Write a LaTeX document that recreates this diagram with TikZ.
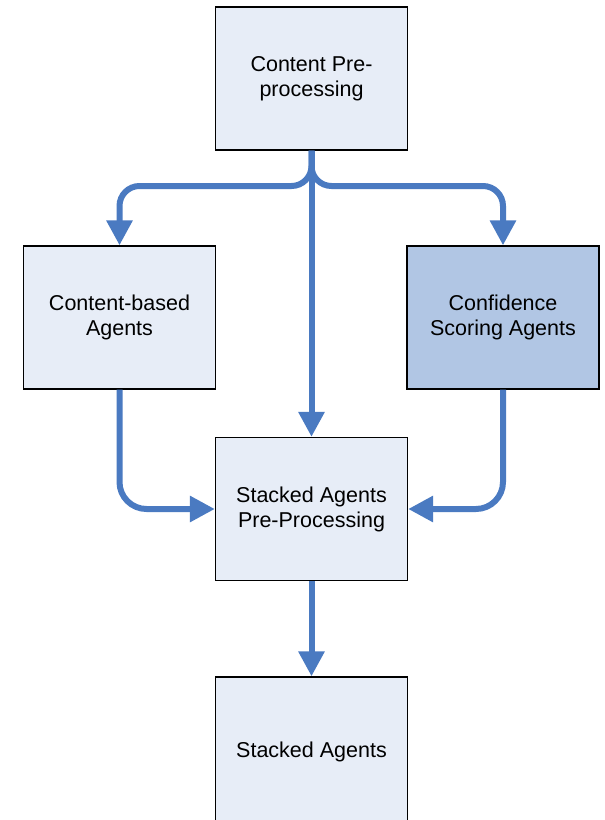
\documentclass[tikz,border=0pt]{standalone}
\usepackage{fontspec}
\setmainfont{Liberation Sans}
\usetikzlibrary{arrows.meta}
\definecolor{boxfill}{RGB}{231,237,247}
\definecolor{boxdark}{RGB}{177,198,228}
\definecolor{flowblue}{RGB}{74,122,193}
\tikzset{
  stage/.style={draw=black, line width=1.3pt, fill=boxfill, minimum width=192pt,
    minimum height=143pt, align=center, inner sep=0pt,
    execute at begin node={\rule{0pt}{20.5pt}},
    font=\fontsize{21.5}{25}\selectfont},
  stagedark/.style={stage, fill=boxdark},
  flow/.style={draw=flowblue, line width=6pt, rounded corners=27pt,
    -{Triangle[length=25pt,width=25pt]}},
}
\begin{document}
\begin{tikzpicture}[x=1pt,y=-1pt]
  \useasboundingbox (0,0) rectangle (605,820);
  \clip (0,0) rectangle (605,820);

  \node[stage]     (pre)   at (311.5,78.5)  {Content Pre-\\processing};
  \node[stage]     (cont)  at (119.5,317.5) {Content-based\\Agents};
  \node[stagedark] (conf)  at (503,317.5)   {Confidence\\Scoring Agents};
  \node[stage]     (spre)  at (311.5,509)   {Stacked Agents\\Pre-Processing};
  \node[stage, minimum height=145pt] (stack) at (311.5,749.5) {Stacked Agents};

  % branching bus below the pre-processing stage
  \coordinate (busL) at (216,186);
  \coordinate (busR) at (407,186);

  \draw[flow, rounded corners=20pt] (pre.south) |- (busL) -| (cont.north);
  \draw[flow, rounded corners=20pt] (pre.south) |- (busR) -| (conf.north);
  \draw[flow] (pre.south) -- (spre.north);
  \draw[flow] (cont.south) |- (spre.west);
  \draw[flow] (conf.south) |- (spre.east);
  \draw[flow] (spre.south) -- (stack.north);
\end{tikzpicture}
\end{document}
